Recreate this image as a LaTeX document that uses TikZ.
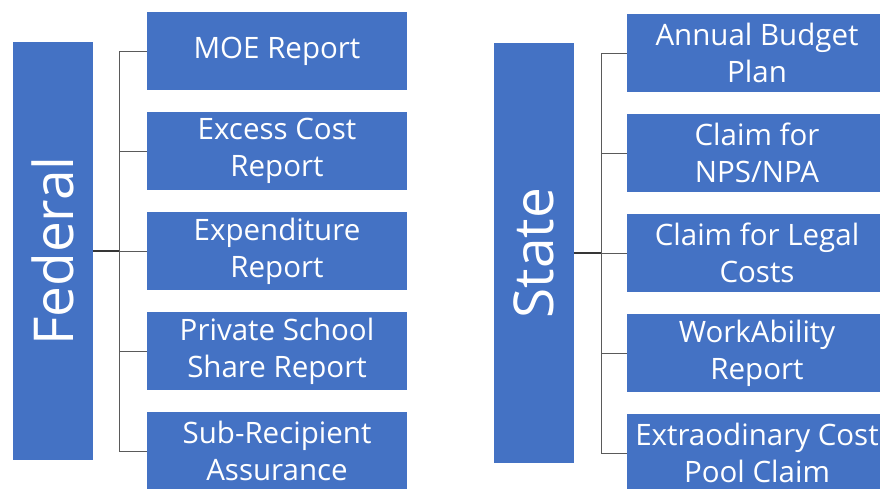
\documentclass[tikz,border=0pt]{standalone}
\usepackage{fontspec}
\setmainfont{Open Sans}
\definecolor{boxblue}{HTML}{4472C4}
\definecolor{linegray}{HTML}{5A5A5A}

\begin{document}
\begin{tikzpicture}[x=1pt,y=-1pt]
        \tikzset{head/.style = {shape=rectangle,fill=boxblue,minimum width=80pt,minimum height=418pt,inner sep=0pt}}
        \tikzset{headtext/.style = {text=white,font=\fontsize{55}{62}\selectfont,rotate=90}}
        \tikzset{item/.style = {shape=rectangle,fill=boxblue,text=white,minimum width=260pt,minimum height=78pt,inner sep=0pt,align=center,font=\fontsize{29.5}{37}\selectfont}}
        \tikzset{link/.style = {draw=linegray,line width=1pt}}
        \tikzset{trunk/.style = {draw=linegray!60!black,line width=1.6pt}}
        \clip (0,0) rectangle (880,488);
        \fill[white] (0,0) rectangle (880,488);
        % federal side
        \node[head] (fed) at (53,251) {};
        \node[headtext] (fedlabel) at (fed.center) {Federal};
        \node[item] (moe) at  (277,51)  {MOE Report};
        \node[item] (exc) at  (277,151) {Excess Cost\\Report};
        \node[item] (exp) at  (277,251) {Expenditure\\Report};
        \node[item] (pss) at  (277,351) {Private School\\Share Report};
        \node[item] (sub) at  (277,451) {Sub-Recipient\\Assurance};
        \coordinate (fedbus) at (119,251);
        % state side
        \node[head, minimum height=420pt] (sta) at (534,253) {};
        \node[headtext] (stalabel) at (sta.center) {State};
        \node[item] (abp) at  (757,53)  {Annual Budget\\Plan};
        \node[item] (nps) at  (757,153) {Claim for\\NPS/NPA};
        \node[item] (leg) at  (757,253) {Claim for Legal\\Costs};
        \node[item] (wab) at  (757,353) {WorkAbility\\Report};
        \node[item] (ecp) at  (757,453) {Extraodinary Cost\\Pool Claim};
        \coordinate (stabus) at (601,253);
        %edges
        \draw[trunk] (fed.east) -- (fedbus);
        \draw[link] (fedbus |- moe.west) -- (fedbus |- sub.west);
        \draw[link] (fedbus |- moe.west) -- (moe.west);
        \draw[link] (fedbus |- exc.west) -- (exc.west);
        \draw[link] (fedbus |- exp.west) -- (exp.west);
        \draw[link] (fedbus |- pss.west) -- (pss.west);
        \draw[link] (fedbus |- sub.west) -- (sub.west);
        \draw[trunk] (sta.east) -- (stabus);
        \draw[link] (stabus |- abp.west) -- (stabus |- ecp.west);
        \draw[link] (stabus |- abp.west) -- (abp.west);
        \draw[link] (stabus |- nps.west) -- (nps.west);
        \draw[link] (stabus |- leg.west) -- (leg.west);
        \draw[link] (stabus |- wab.west) -- (wab.west);
        \draw[link] (stabus |- ecp.west) -- (ecp.west);
\end{tikzpicture}
\end{document}
